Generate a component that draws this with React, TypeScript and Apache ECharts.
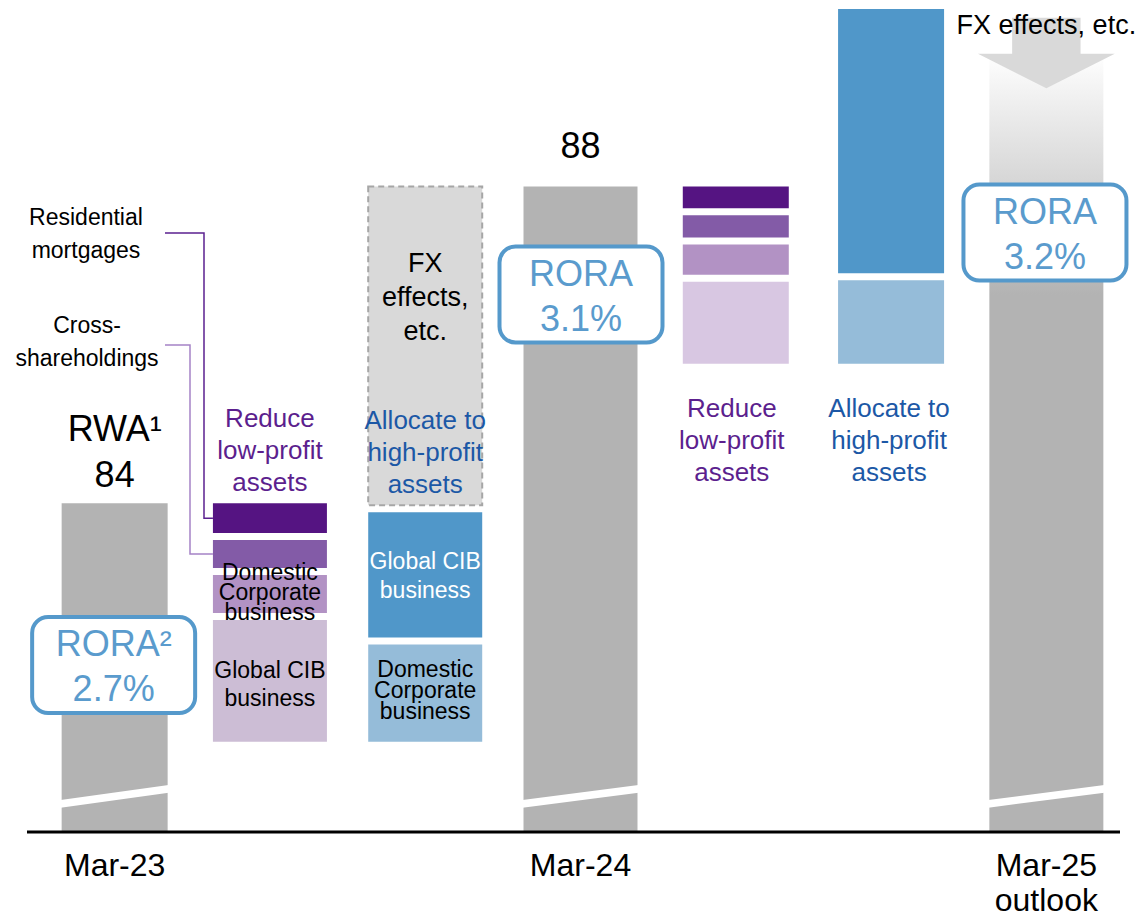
import React, { useEffect, useRef } from 'react';
import * as echarts from 'echarts';

// ---------------- DATA ----------------
const categories = ['Mar-23', 'Reduce FY23', 'Allocate FY23', 'Mar-24', 'Reduce FY24', 'Allocate FY24', 'Mar-25 outlook'];
const axisLabels = ['Mar-23', '', '', 'Mar-24', '', '', 'Mar-25\noutlook'];

const rwaMar23 = 84;
const rwaMar24 = 88;
const reduceNames = ['Residential\nmortgages', 'Cross-\nshareholdings', 'Domestic\nCorporate\nbusiness', 'Global CIB\nbusiness'];
const reduceFY23 = [0.42, 0.44, 0.57, 1.58];
const reduceFY24 = [0.32, 0.37, 0.47, 1.08];
const allocateNames = ['Domestic\nCorporate\nbusiness', 'Global CIB\nbusiness', 'FX\neffects,\netc.'];
const allocateFY23 = [1.27, 1.67, 4.07];
const allocateFY24 = [1.1, 3.38];
const fxEffectsMar25 = [90.13, 89.24]; // arrow: from, to
const mar25OutlookTop = 89.68;
const roraCols = [0, 3, 6];
const roraTitles = ['RORA²', 'RORA', 'RORA'];
const roraValues = [2.7, 3.1, 3.2];
const annotationCols = [1, 2, 4, 5];
const annotationTexts = ['Reduce\nlow-profit\nassets', 'Allocate to\nhigh-profit\nassets', 'Reduce\nlow-profit\nassets', 'Allocate to\nhigh-profit\nassets'];

// ---------------- LAYOUT / STYLE ----------------
const Y_MIN = 79.85;
const Y_MAX = 90.24;
const BREAK_AT = 80.3;
const GAP = 7;
const FONT = '"Liberation Sans", Arial, Helvetica, sans-serif';
const barWidths = [106, 114, 114, 114, 106, 106, 114];
const C = {
  gray: '#b3b3b3',
  p1: '#551482',
  p2: '#835ba7',
  p3: '#b292c4',
  p4a: '#ccbdd5',
  p4b: '#d8c7e2',
  blue: '#5097c9',
  lblue: '#95bcd9',
  fx: '#d9d9d9',
  fxBorder: '#a6a6a6',
  rora: '#5599cb',
  roraText: '#5a9bcd',
  purpleText: '#5c1f8e',
  blueText: '#1c58a6',
};
const annotationColors = [C.purpleText, C.blueText, C.purpleText, C.blueText];
const annotationY = [450, 452, 440, 440];
const annotationDx = [0, 0, -4, -2];
const roraCenterY = [665, 294.5, 232.5];
const roraDx = [-1, 0.5, -1.4];

type Seg = {
  col: number;
  start: number;
  end: number;
  fill: any;
  stroke?: string;
  dash?: boolean;
  first: boolean;
  last: boolean;
  label?: string;
  labelColor?: string;
  labelSize?: number;
  labelLH?: number;
  labelDy?: number;
  breakBand?: boolean;
  topLabel?: string;
  topDy?: number;
  callout?: any;
};

const segs: Seg[] = [];
segs.push({ col: 0, start: Y_MIN, end: rwaMar23, fill: C.gray, first: true, last: true, breakBand: true, topLabel: 'RWA¹\n84', topDy: -52 });
{
  let level = rwaMar23;
  const colors = [C.p1, C.p2, C.p3, C.p4a];
  const callouts = [
    { tx: 86, ty: 233.5, lineY: 233, elbowX: 204, startX: 165, color: '#5b2090' },
    { tx: 87, ty: 341, lineY: 345, elbowX: 190, startX: 165, color: '#a583c6' },
  ];
  reduceFY23.forEach((v, i) => {
    segs.push({
      col: 1, start: level, end: level - v, fill: colors[i], first: i === 0, last: i === reduceFY23.length - 1,
      label: i >= 2 ? reduceNames[i] : undefined,
      labelColor: '#000', labelSize: 23, labelLH: i === 2 ? 20 : 28, labelDy: i === 2 ? -2 : 3,
      callout: i < 2 ? { ...callouts[i], text: reduceNames[i] } : undefined,
    });
    level -= v;
  });
  const acolors = [C.lblue, C.blue, C.fx];
  allocateFY23.forEach((v, i) => {
    segs.push({
      col: 2, start: level, end: level + v, fill: acolors[i], first: i === 0, last: i === allocateFY23.length - 1,
      stroke: i === 2 ? C.fxBorder : undefined, dash: i === 2,
      label: allocateNames[i],
      labelColor: i === 1 ? '#ffffff' : '#000',
      labelSize: i === 2 ? 27 : 23, labelLH: i === 2 ? 34 : i === 0 ? 21 : 29, labelDy: i === 2 ? -49 : i === 0 ? -3 : 1,
    });
    level += v;
  });
}
segs.push({ col: 3, start: Y_MIN, end: rwaMar24, fill: C.gray, first: true, last: true, breakBand: true, topLabel: '88', topDy: -41 });
{
  let level = rwaMar24;
  const colors = [C.p1, C.p2, C.p3, C.p4b];
  reduceFY24.forEach((v, i) => {
    segs.push({ col: 4, start: level, end: level - v, fill: colors[i], first: i === 0, last: i === reduceFY24.length - 1 });
    level -= v;
  });
  const acolors = [C.lblue, C.blue];
  allocateFY24.forEach((v, i) => {
    segs.push({ col: 5, start: level, end: level + v, fill: acolors[i], first: i === 0, last: i === allocateFY24.length - 1 });
    level += v;
  });
}
segs.push({
  col: 6, start: Y_MIN, end: mar25OutlookTop,
  fill: new echarts.graphic.LinearGradient(0, 0, 0, 1, [
    { offset: 0, color: '#ffffff' },
    { offset: 0.03, color: '#f7f7f7' },
    { offset: 0.31, color: '#b3b3b3' },
    { offset: 1, color: '#b3b3b3' },
  ]),
  first: true, last: true, breakBand: true,
});

function segGeom(s: Seg, api: any) {
  const bw = barWidths[s.col];
  const ps = api.coord([s.col, s.start]);
  const pe = api.coord([s.col, s.end]);
  const cx = ps[0];
  let ys = ps[1];
  let ye = pe[1];
  const d = Math.sign(ye - ys);
  if (!s.first) ys += (d * GAP) / 2;
  if (!s.last) ye -= (d * GAP) / 2;
  const top = Math.min(ys, ye);
  const bottom = Math.max(ys, ye);
  return { cx, bw, top, bottom, x0: cx - bw / 2, x1: cx + bw / 2 };
}

export default function App() {
  const ref = useRef<HTMLDivElement>(null);
  useEffect(() => {
    document.body.style.margin = '0';
    const chart = echarts.init(ref.current!, null, { renderer: 'svg' });
    const option: any = {
      animation: false,
      backgroundColor: '#ffffff',
      grid: { left: 37, right: 17, top: 9, bottom: 84, containLabel: false, outerBoundsMode: 'none' },
      xAxis: {
        type: 'category',
        data: categories,
        axisLine: { show: false },
        axisTick: { show: false },
        splitLine: { show: false },
        axisLabel: {
          interval: 0,
          formatter: (_v: string, i: number) => axisLabels[i],
          fontSize: 32,
          lineHeight: 35,
          margin: 15,
          color: '#000',
          fontFamily: FONT,
        },
      },
      yAxis: { type: 'value', min: Y_MIN, max: Y_MAX, show: false, splitLine: { show: false } },
      graphic: [
        { type: 'line', z: 10, shape: { x1: 27, y1: 832, x2: 1120, y2: 832 }, style: { stroke: '#000', lineWidth: 3 } },
      ],
      series: [
        {
          type: 'custom',
          name: 'segments',
          z: 2,
          clip: false,
          data: segs.map((s) => [s.col, s.start, s.end]),
          encode: { x: 0, y: [1, 2] },
          renderItem: (params: any, api: any) => {
            const s = segs[params.dataIndex];
            const g = segGeom(s, api);
            const children: any[] = [
              {
                type: 'rect',
                shape: { x: g.x0, y: g.top, width: g.bw, height: g.bottom - g.top },
                style: {
                  fill: s.fill,
                  stroke: s.stroke || null,
                  lineWidth: s.stroke ? 2 : 0,
                  lineDash: s.dash ? [6, 4] : null,
                },
              },
            ];
            if (s.breakBand) {
              const yc = api.coord([s.col, BREAK_AT])[1];
              const half = 7.5;
              const t = 3.8;
              children.push({
                type: 'polygon',
                shape: {
                  points: [
                    [g.x0 - 1, yc + half - t],
                    [g.x1 + 1, yc - half - t],
                    [g.x1 + 1, yc - half + t],
                    [g.x0 - 1, yc + half + t],
                  ],
                },
                style: { fill: '#ffffff' },
              });
            }
            if (s.topLabel) {
              children.push({
                type: 'text',
                style: {
                  x: g.cx, y: g.top + (s.topDy || 0), text: s.topLabel, fill: '#000',
                  fontSize: 36, fontFamily: FONT, lineHeight: 46, align: 'center', verticalAlign: 'middle',
                },
              });
            }
            const co: any = s.callout;
            if (co) {
              const yc = (g.top + g.bottom) / 2;
              children.push({
                type: 'polyline',
                shape: { points: [[co.startX, co.lineY], [co.elbowX, co.lineY], [co.elbowX, yc], [g.x0, yc]] },
                style: { stroke: co.color, lineWidth: 1.5, fill: null },
              });
              children.push({
                type: 'text',
                style: {
                  x: co.tx, y: co.ty, text: co.text, fill: '#000', fontSize: 23, fontFamily: FONT,
                  lineHeight: 33, align: 'center', verticalAlign: 'middle',
                },
              });
            }
            return { type: 'group', children };
          },
        },
        {
          type: 'custom',
          name: 'fxArrow',
          z: 3,
          clip: false,
          data: [[6, fxEffectsMar25[0], fxEffectsMar25[1]]],
          encode: { x: 0, y: [1, 2] },
          renderItem: (_p: any, api: any) => {
            const p0 = api.coord([6, fxEffectsMar25[0]]);
            const p1 = api.coord([6, fxEffectsMar25[1]]);
            const cx = p0[0];
            const y0 = p0[1];
            const y1 = p1[1];
            const yh = y0 + (y1 - y0) * 0.51;
            const bw = barWidths[6];
            const sh = bw * 0.3;
            const hh = bw * 0.6;
            return {
              type: 'group',
              children: [
                {
                  type: 'polygon',
                  shape: { points: [[cx - sh, y0], [cx + sh, y0], [cx + sh, yh], [cx + hh, yh], [cx, y1], [cx - hh, yh], [cx - sh, yh]] },
                  style: { fill: '#d9d9d9' },
                },
                {
                  type: 'text',
                  style: {
                    x: cx, y: y0 + 7.5, text: 'FX effects, etc.', fill: '#000', fontSize: 27, fontFamily: FONT,
                    align: 'center', verticalAlign: 'middle',
                  },
                },
              ],
            };
          },
        },
        {
          type: 'custom',
          name: 'segmentLabels',
          z: 4,
          clip: false,
          data: segs.map((s) => [s.col, s.start, s.end]),
          encode: { x: 0, y: [1, 2] },
          renderItem: (params: any, api: any) => {
            const s = segs[params.dataIndex];
            if (!s.label) return { type: 'group', children: [] };
            const g = segGeom(s, api);
            return {
              type: 'text',
              style: {
                x: g.cx, y: (g.top + g.bottom) / 2 + (s.labelDy || 0), text: s.label, fill: s.labelColor,
                fontSize: s.labelSize, lineHeight: s.labelLH, fontFamily: FONT, align: 'center', verticalAlign: 'middle',
              },
            };
          },
        },
        {
          type: 'custom',
          name: 'annotations',
          z: 4,
          clip: false,
          data: annotationCols.map((c) => [c, Y_MIN]),
          encode: { x: 0, y: 1 },
          renderItem: (params: any, api: any) => {
            const i = params.dataIndex;
            const cx = api.coord([annotationCols[i], Y_MIN])[0] + annotationDx[i];
            return {
              type: 'text',
              style: {
                x: cx, y: annotationY[i], text: annotationTexts[i], fill: annotationColors[i],
                fontSize: 26, lineHeight: 32, fontFamily: FONT, align: 'center', verticalAlign: 'middle',
              },
            };
          },
        },
        {
          type: 'custom',
          name: 'rora',
          z: 5,
          clip: false,
          data: roraCols.map((c, i) => [c, roraValues[i]]),
          encode: { x: 0 },
          renderItem: (params: any, api: any) => {
            const i = params.dataIndex;
            const cx = api.coord([roraCols[i], Y_MIN])[0] + roraDx[i];
            const cy = roraCenterY[i];
            const w = 163;
            const h = 96;
            return {
              type: 'group',
              children: [
                {
                  type: 'rect',
                  shape: { x: cx - w / 2, y: cy - h / 2, width: w, height: h, r: 16 },
                  style: { fill: '#ffffff', stroke: C.rora, lineWidth: 4 },
                },
                {
                  type: 'text',
                  style: {
                    x: cx, y: cy + 1, text: roraTitles[i] + '\n' + roraValues[i].toFixed(1) + '%', fill: C.roraText,
                    fontSize: 36, lineHeight: 45, fontFamily: FONT, align: 'center', verticalAlign: 'middle',
                  },
                },
              ],
            };
          },
        },
      ],
    };
    chart.setOption(option);
    return () => chart.dispose();
  }, []);
  return <div ref={ref} style={{ width: 1141, height: 916, position: 'absolute', left: 0, top: 0 }} />;
}
